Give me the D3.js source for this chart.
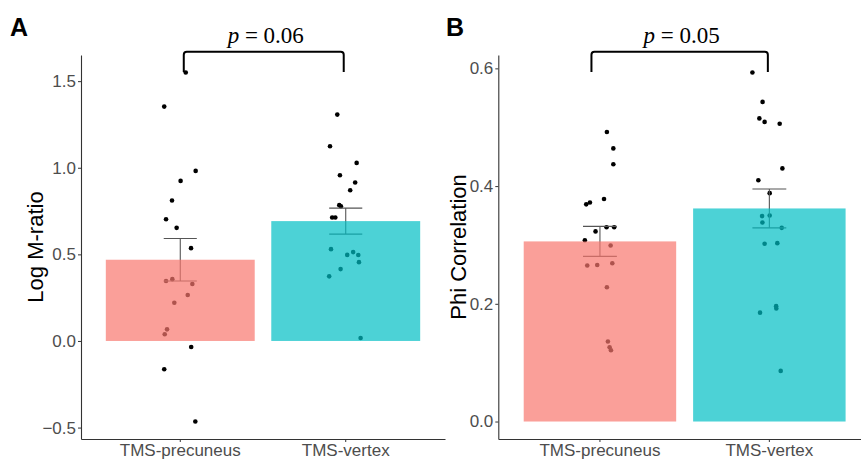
<!DOCTYPE html>
<html>
<head>
<meta charset="utf-8">
<script src="https://cdn.jsdelivr.net/npm/d3@7"></script>
<style>
  body { margin: 0; background: #fff; }
  svg { display: block; font-family: "Liberation Sans", Arial, sans-serif; }
  .tick text { fill: #4D4D4D; font-size: 17px; }
  .domain, .tick line { stroke: #333; }
</style>
</head>
<body>
<div id="chart"></div>
<script>
var categories = ["TMS-precuneus", "TMS-vertex"];

// panel A : log M-ratio
var mratioPrecuneus = [1.55, 1.353, 0.982, 0.924, 0.811, 0.703, 0.653, 0.536, 0.357, 0.346, 0.329, 0.265, 0.221, 0.067, 0.039, -0.035, -0.163, -0.465];
var jitterMratioPrecuneus = [0.033, -0.097, 0.093, 0.002, -0.05, -0.086, -0.022, 0.065, -0.048, -0.086, 0.073, 0.045, -0.036, -0.08, -0.094, 0.066, -0.097, 0.091];
var mratioVertex = [1.307, 1.124, 1.028, 0.957, 0.915, 0.870, 0.784, 0.778, 0.713, 0.713, 0.530, 0.513, 0.497, 0.496, 0.455, 0.415, 0.373, 0.017];
var jitterMratioVertex = [-0.051, -0.095, 0.066, -0.035, 0.057, 0.027, -0.039, -0.029, -0.082, -0.063, -0.089, 0.045, 0.009, 0.076, 0.08, -0.031, -0.1, 0.09];
var mratioMeans = [0.469, 0.692];
var mratioSE = [0.123, 0.075];

// panel B : phi correlation
var phiPrecuneus = [0.492, 0.464, 0.437, 0.378, 0.372, 0.369, 0.323, 0.330, 0.330, 0.308, 0.299, 0.266, 0.265, 0.269, 0.228, 0.136, 0.126, 0.121];
var jitterPhiPrecuneus = [0.041, 0.079, 0.079, 0.024, -0.059, -0.081, -0.026, 0.039, 0.084, -0.089, 0.063, -0.016, -0.075, 0.073, 0.041, 0.047, 0.057, 0.065];
var phiVertex = [0.593, 0.543, 0.515, 0.509, 0.506, 0.430, 0.410, 0.388, 0.350, 0.349, 0.338, 0.329, 0.302, 0.303, 0.196, 0.192, 0.185, 0.086];
var jitterPhiVertex = [-0.1, -0.04, -0.059, -0.028, 0.061, 0.077, -0.065, 0.002, 0.002, -0.043, -0.041, 0.073, -0.028, 0.047, 0.04, 0.041, -0.055, 0.067];
var phiMeans = [0.306, 0.362];
var phiSE = [0.0255, 0.033];

var yTicksA = [-0.5, 0.0, 0.5, 1.0, 1.5];
var yTicksB = [0.0, 0.2, 0.4, 0.6];
var pLabels = ["0.06", "0.05"];

var colors = ["#F8766D", "#00BFC4"];

var width = 861, height = 460;

var svg = d3.select("#chart").append("svg")
  .attr("width", width)
  .attr("height", height);

function drawPanel(opt) {
  var x = d3.scaleBand()
    .domain(categories)
    .range([opt.left, opt.right])
    .paddingInner(0.1)
    .paddingOuter(0.15);
  var step = x.step();
  var cx = function(c) { return x(c) + x.bandwidth() / 2; };

  var y = d3.scaleLinear()
    .domain(opt.yDomain)
    .range([opt.bottom, opt.top]);

  var g = svg.append("g");

  // points first, the bars are drawn on top with alpha
  opt.series.forEach(function(vals, i) {
    g.selectAll(null)
      .data(vals)
      .enter().append("circle")
      .attr("cx", function(d, j) { return cx(categories[i]) + opt.jitter[i][j] * step; })
      .attr("cy", function(d) { return y(d); })
      .attr("r", 2.3)
      .attr("fill", "#000");
  });

  // error bars
  categories.forEach(function(c, i) {
    var m = opt.means[i], e = opt.se[i];
    var hw = 0.1 * step;
    var eb = g.append("g").attr("stroke", "#555").attr("stroke-width", 1.1).attr("fill", "none");
    eb.append("line").attr("x1", cx(c)).attr("x2", cx(c)).attr("y1", y(m + e)).attr("y2", y(m - e));
    eb.append("line").attr("x1", cx(c) - hw).attr("x2", cx(c) + hw).attr("y1", y(m + e)).attr("y2", y(m + e));
    eb.append("line").attr("x1", cx(c) - hw).attr("x2", cx(c) + hw).attr("y1", y(m - e)).attr("y2", y(m - e));
  });

  g.selectAll(".bar")
    .data(opt.means)
    .enter().append("rect")
    .attr("class", "bar")
    .attr("x", function(d, i) { return x(categories[i]); })
    .attr("width", x.bandwidth())
    .attr("y", function(d) { return y(d); })
    .attr("height", function(d) { return y(0) - y(d); })
    .attr("fill", function(d, i) { return colors[i]; })
    .attr("fill-opacity", 0.7);

  // axes
  var yAxis = g.append("g")
    .attr("transform", "translate(" + opt.left + ",0)")
    .call(d3.axisLeft(y).tickValues(opt.yTicks).tickFormat(d3.format(".1f")).tickSize(3).tickPadding(2).tickSizeOuter(0));
  yAxis.select(".domain").attr("stroke", "#333").attr("stroke-width", 1.1);

  var xAxis = g.append("g")
    .attr("transform", "translate(0," + opt.bottom + ")")
    .call(d3.axisBottom(x).tickSize(3).tickPadding(2).tickSizeOuter(0));
  xAxis.select(".domain").attr("stroke", "#333").attr("stroke-width", 1.1);

  g.append("text")
    .attr("transform", "translate(" + opt.titleX + "," + ((opt.top + opt.bottom) / 2) + ") rotate(-90)")
    .attr("text-anchor", "middle")
    .style("font-size", "22px")
    .attr("fill", "#000")
    .text(opt.title);

  g.append("text")
    .attr("x", opt.letterX)
    .attr("y", 36)
    .style("font-size", "25px")
    .style("font-weight", "bold")
    .text(opt.letter);

  // significance bracket
  var x1 = cx(categories[0]) + opt.bracketOff[0], x2 = cx(categories[1]) + opt.bracketOff[1];
  var yb = 51.7, yEnd = 72, r = 3;
  g.append("path")
    .attr("d", "M" + x1 + "," + yEnd + "L" + x1 + "," + (yb + r) +
      "Q" + x1 + "," + yb + " " + (x1 + r) + "," + yb +
      "L" + (x2 - r) + "," + yb +
      "Q" + x2 + "," + yb + " " + x2 + "," + (yb + r) +
      "L" + x2 + "," + yEnd)
    .attr("fill", "none")
    .attr("stroke", "#000")
    .attr("stroke-width", 2);

  var pt = g.append("text")
    .attr("x", (x1 + x2) / 2 + 2)
    .attr("y", 43)
    .attr("text-anchor", "middle")
    .style("font-family", "'Liberation Serif', 'Times New Roman', serif")
    .style("font-size", "23px");
  pt.append("tspan").style("font-style", "italic").text("p");
  pt.append("tspan").text(" = " + opt.p);
}

drawPanel({
  left: 81, right: 445, top: 55, bottom: 439,
  yDomain: [-0.566, 1.651], yTicks: yTicksA,
  series: [mratioPrecuneus, mratioVertex],
  jitter: [jitterMratioPrecuneus, jitterMratioVertex],
  means: mratioMeans, se: mratioSE,
  title: "Log M-ratio", titleX: 43,
  letter: "A", letterX: 10,
  bracketOff: [3.5, -2], p: pLabels[0]
});

drawPanel({
  left: 498.3, right: 871, top: 55, bottom: 439,
  yDomain: [-0.0297, 0.6227], yTicks: yTicksB,
  series: [phiPrecuneus, phiVertex],
  jitter: [jitterPhiPrecuneus, jitterPhiVertex],
  means: phiMeans, se: phiSE,
  title: "Phi Correlation", titleX: 466,
  letter: "B", letterX: 446,
  bracketOff: [-8.5, -1.5], p: pLabels[1]
});
</script>
</body>
</html>
